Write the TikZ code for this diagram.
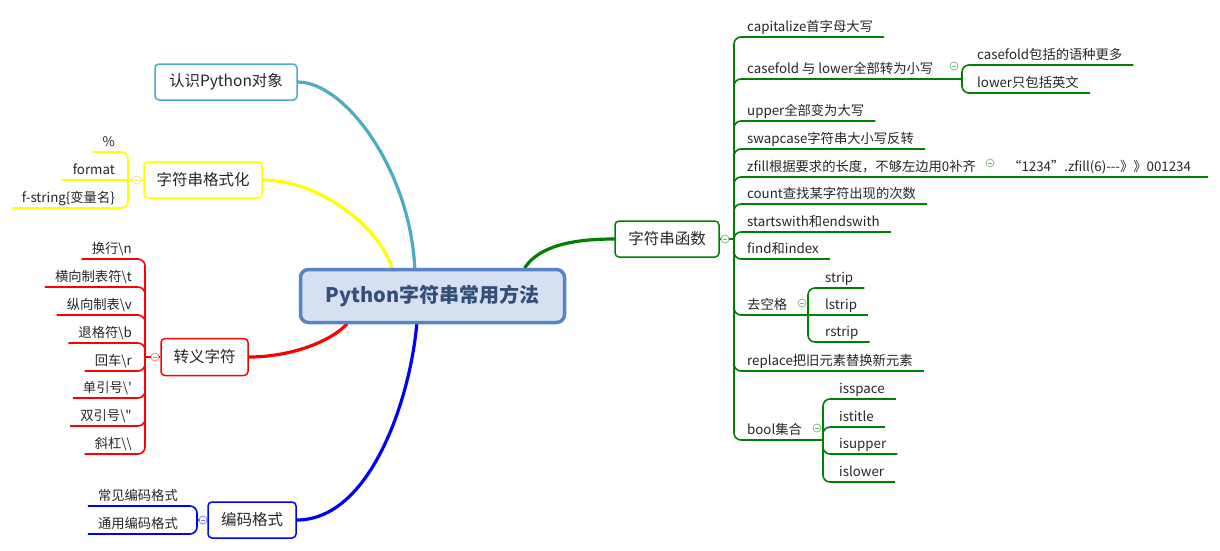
\documentclass[tikz,border=0pt]{standalone}
\usepackage{fontspec}
\setmainfont{Noto Sans CJK SC}[Ligatures=TeXOff]
\usetikzlibrary{calc}
\pgfdeclarelayer{bg}
\pgfsetlayers{bg,main}
\definecolor{tealc}{RGB}{75,172,198}
\definecolor{yelc}{RGB}{255,255,0}
\definecolor{redc}{RGB}{255,0,0}
\definecolor{bluc}{RGB}{0,0,255}
\definecolor{grnc}{RGB}{0,128,0}
\definecolor{cfill}{RGB}{214,224,240}
\definecolor{cborder}{RGB}{85,133,200}
\definecolor{ctext}{RGB}{52,78,120}
\definecolor{txt}{RGB}{38,38,38}
\begin{document}
\begin{tikzpicture}[x=1pt,y=-1pt,
  topic/.style={draw, rounded corners=4pt, line width=1.5pt, fill=white, text=txt,
    font=\fontsize{15.5}{18}\selectfont, inner sep=0pt, minimum height=36pt},
  rootbox/.style={draw=cborder, fill=cfill, rounded corners=8pt, line width=3.5pt, text=ctext,
    font=\fontsize{20}{24}\selectfont\bfseries, inner sep=0pt, minimum width=264pt, minimum height=53pt},
  leaf/.style={text=txt, font=\fontsize{13.3}{15}\selectfont, inner sep=0pt},
  branch/.style={line width=3.2pt, line cap=round},
  twig/.style={line width=1.6pt, rounded corners=7pt},
  toggle/.style={circle, draw=#1, line width=0.7pt, fill=white, minimum size=8pt, inner sep=0pt,
    path picture={\draw[#1, line width=0.7pt] ($(path picture bounding box.west)+(2,0)$) -- ($(path picture bounding box.east)+(-2,0)$);}},
]
\useasboundingbox (0,0) rectangle (1220,550);
\begin{pgfonlayer}{bg}
\fill[white] (0,0) rectangle (1220,550);
\end{pgfonlayer}

% central and main topics
\node[rootbox] (cen) at (432.5,296) {Python字符串常用方法};
\node[topic, draw=tealc, minimum width=142pt] (n1) at (226,82) {认识Python对象};
\node[topic, draw=yelc, minimum width=118pt] (n2) at (203,180) {字符串格式化};
\node[topic, draw=redc, minimum width=87pt, minimum height=37pt] (n3) at (204.5,357) {转义字符};
\node[topic, draw=bluc, minimum width=88pt] (n4) at (252,520) {编码格式};
\node[topic, draw=grnc, minimum width=104pt] (n5) at (667,239) {字符串函数};

% right leaves
\node[leaf, anchor=base west] (f1) at (747,31) {capitalize首字母大写};
\node[leaf, anchor=base west] (f2) at (747,73) {casefold 与 lower全部转为小写};
\node[leaf, anchor=base west] (f3) at (747,115) {upper全部变为大写};
\node[leaf, anchor=base west] (f4) at (747,143) {swapcase字符串大小写反转};
\node[leaf, anchor=base west] (f5) at (747,171) {zfill根据要求的长度，不够左边用0补齐};
\node[leaf, anchor=base west] (f6) at (747,198) {count查找某字符出现的次数};
\node[leaf, anchor=base west] (f7) at (747,226) {startswith和endswith};
\node[leaf, anchor=base west] (f8) at (747,253) {find和index};
\node[leaf, anchor=base west] (f9) at (747,309) {去空格};
\node[leaf, anchor=base west] (f10) at (747,365) {replace把旧元素替换新元素};
\node[leaf, anchor=base west] (f11) at (747,434) {bool集合};
\node[leaf, anchor=base west] (g1) at (977,59) {casefold包括的语种更多};
\node[leaf, anchor=base west] (g2) at (977,87) {lower只包括英文};
\node[leaf, anchor=base west] (z1) at (1008,171) {“1234”.zfill(6)---》》001234};
\node[leaf, anchor=base west] (s1) at (825,282) {strip};
\node[leaf, anchor=base west] (s2) at (825,309) {lstrip};
\node[leaf, anchor=base west] (s3) at (825,336) {rstrip};
\node[leaf, anchor=base west] (b1) at (839,393) {isspace};
\node[leaf, anchor=base west] (b2) at (839,421) {istitle};
\node[leaf, anchor=base west] (b3) at (839,448) {isupper};
\node[leaf, anchor=base west] (b4) at (839,476) {islower};

% left leaves
\node[leaf, anchor=base east] (p1) at (115,146) {\%};
\node[leaf, anchor=base east] (p2) at (115,174) {format};
\node[leaf, anchor=base east] (p3) at (115,202) {f-string\{变量名\}};
\node[leaf, anchor=base east] (e1) at (132,253) {换行\textbackslash n};
\node[leaf, anchor=base east] (e2) at (132,281) {横向制表符\textbackslash t};
\node[leaf, anchor=base east] (e3) at (132,309) {纵向制表\textbackslash v};
\node[leaf, anchor=base east] (e4) at (132,337) {退格符\textbackslash b};
\node[leaf, anchor=base east] (e5) at (132,365) {回车\textbackslash r};
\node[leaf, anchor=base east] (e6) at (132,392) {单引号\textbackslash '};
\node[leaf, anchor=base east] (e7) at (132,420) {双引号\textbackslash "};
\node[leaf, anchor=base east] (e8) at (132,448) {斜杠\textbackslash\textbackslash};
\node[leaf, anchor=base east] (c1) at (178,500) {常见编码格式};
\node[leaf, anchor=base east] (c2) at (178,528) {通用编码格式};

% junctions
\coordinate (jF) at (734,239);
\coordinate (jC) at (962,79);
\coordinate (jS) at (808,315);
\coordinate (jB) at (823,440);
\coordinate (jP) at (128,180);
\coordinate (jE) at (145,357);
\coordinate (jK) at (197,520);

\begin{pgfonlayer}{bg}
% main branches
\draw[branch, tealc] (n1.east) .. controls (345,82) and (410,170) .. ($(cen.north west)+(116,0)$);
\draw[branch, yelc] (n2.east) .. controls (320,180) and (380,228) .. ($(cen.north west)+(93,0)$);
\draw[branch, redc] (n3.east) .. controls (290,357) and (330,342) .. ($(cen.south west)+(48,0)$);
\draw[branch, bluc] (n4.east) .. controls (370,520) and (410,400) .. ($(cen.south west)+(118,0)$);
\draw[branch, grnc] ($(cen.north west)+(226,0)$) .. controls (540,245) and (575,239) .. (n5.west);

% right group
\draw[twig, grnc] (n5.east) -- (jF);
\foreach \n in {f1,f3,f4,f6,f7,f8,f10}
  \draw[twig, grnc] (jF) |- ($(\n.base east)+(11,6)$);
\draw[twig, grnc] (jF) |- (jC);
\draw[twig, grnc] (jF) |- ($(z1.base east)+(17,6)$);
\draw[twig, grnc] (jF) |- (jS);
\draw[twig, grnc] (jF) |- (jB);
\foreach \n in {g1,g2}
  \draw[twig, grnc] (jC) |- ($(\n.base east)+(11,6)$);
\foreach \n in {s1,s3}
  \draw[twig, grnc] (jS) |- ($(\n.base east)+(11,6)$);
\draw[twig, grnc] (jS) -- ($(s2.base east)+(11,6)$);
\foreach \n in {b1,b2,b3,b4}
  \draw[twig, grnc] (jB) |- ($(\n.base east)+(11,6)$);

% left groups
\draw[twig, yelc] (n2.west) -- (jP);
\foreach \n in {p1,p3}
  \draw[twig, yelc] (jP) |- ($(\n.base west)+(-10,6)$);
\draw[twig, yelc] (jP) -- ($(p2.base west)+(-11,6)$);
\draw[twig, redc] (n3.west) -- (jE);
\foreach \n in {e1,e2,e3,e4,e5,e6,e7,e8}
  \draw[twig, redc] (jE) |- ($(\n.base west)+(-10,6)$);
\draw[twig, bluc] (n4.west) -- (jK);
\foreach \n in {c1,c2}
  \draw[twig, bluc] (jK) |- ($(\n.base west)+(-10,6)$);
\end{pgfonlayer}

% collapse toggles
\node[toggle=grnc!55!white] (t5) at (725,239) {};
\node[toggle=grnc!55!white] (tc) at (954,66) {};
\node[toggle=grnc!55!white] (tz) at (990,163) {};
\node[toggle=grnc!55!white] (ts) at (802,303) {};
\node[toggle=grnc!55!white] (tb) at (817,428) {};
\node[toggle=yelc!70!gray!60!white] (t2) at (137,180) {};
\node[toggle=redc!55!white] (t3) at (155,357) {};
\node[toggle=bluc!55!white] (t4) at (203,520) {};
\end{tikzpicture}
\end{document}
